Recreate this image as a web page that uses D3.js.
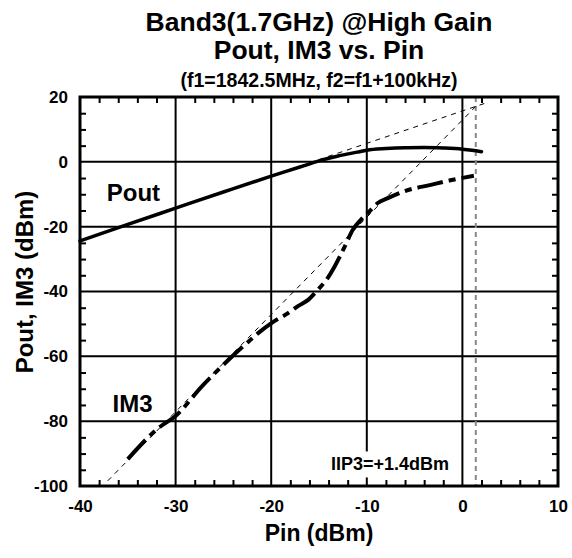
<!DOCTYPE html>
<html><head><meta charset="utf-8">
<script src="https://cdn.jsdelivr.net/npm/d3@7"></script>
<style>
body{margin:0;background:#fff;}
text{font-family:"Liberation Sans",Arial,sans-serif;font-weight:bold;fill:#000;}
</style></head>
<body><svg id="c" width="572" height="558"></svg>
<script>
// ---- data ----
const poutPin = [-40,-35,-30,-25,-20,-17,-15,-13,-11,-10,-8,-6,-4,-2,0,1,2];
const poutVal = [-24.4,-19.3,-14.3,-9.3,-4.4,-1.6,0.3,1.8,3.0,3.6,4.1,4.35,4.4,4.25,3.9,3.55,3.1];
const im3Pin = [-35,-31.7,-30,-27.2,-26,-24.4,-22.7,-21.3,-19.9,-18.2,-17.2,-16.1,-15.1,-14.2,-13.35,-12.3,-11.45,-10.6,-9.9,-8.85,-7.8,-6.1,-3.3,-1.25,1.2];
const im3Val = [-91.7,-81.9,-78.4,-69.1,-65.5,-60.9,-56.3,-52.7,-49.6,-46.6,-44.5,-42.5,-39.4,-36.3,-32.2,-26.1,-20.9,-17.8,-15.8,-12.7,-11.2,-9.1,-7.1,-5.7,-4.3];
const poutFitPin = [-20,2.6];
const poutFitVal = [-4.3,18.3];
const im3FitPin = [-37.1,1.6];
const im3FitVal = [-98.4,17.7];
const iip3 = 1.4;
const xMajor = [-40,-30,-20,-10,0,10];
const xMinor = [-38,-36,-34,-32,-28,-26,-24,-22,-18,-16,-14,-12,-8,-6,-4,-2,2,4,6,8];
const yMajor = [20,0,-20,-40,-60,-80,-100];
const yMinor = [15,10,5,-5,-10,-15,-25,-30,-35,-45,-50,-55,-65,-70,-75,-85,-90,-95];
const titles = ["Band3(1.7GHz) @High Gain","Pout, IM3 vs. Pin","(f1=1842.5MHz, f2=f1+100kHz)"];

const svg = d3.select("#c");
const L=80,R=558,T=97,B=486;
const x = d3.scaleLinear().domain([-40,10]).range([L,R]);
const y = d3.scaleLinear().domain([-100,20]).range([B,T]);
const cx=(L+R)/2;
const FF="Liberation Sans, Arial, sans-serif";

// titles
svg.append("text").attr("x",cx).attr("y",31).attr("text-anchor","middle").style("font-size","26.5px").text(titles[0]);
svg.append("text").attr("x",cx).attr("y",59).attr("text-anchor","middle").style("font-size","26.5px").text(titles[1]);
svg.append("text").attr("x",cx).attr("y",87).attr("text-anchor","middle").style("font-size","19.5px").text(titles[2]);

// grid
const g = svg.append("g");
g.selectAll("line.vx").data(xMajor.slice(1,-1)).join("line")
 .attr("x1",d=>x(d)).attr("x2",d=>x(d)).attr("y1",T).attr("y2",B)
 .attr("stroke","#000").attr("stroke-width",2);
g.selectAll("line.hy").data(yMajor.slice(1,-1)).join("line")
 .attr("class","hy").attr("y1",d=>y(d)).attr("y2",d=>y(d)).attr("x1",L).attr("x2",R)
 .attr("stroke","#000").attr("stroke-width",2);

// minor ticks via axes
const tk=6;
const clean = s=>{s.select(".domain").remove();s.selectAll("line").attr("stroke-width",2);};
svg.append("g").attr("transform",`translate(0,${B})`)
 .call(d3.axisTop(x).tickValues(xMinor).tickSize(tk).tickFormat("")).call(clean);
svg.append("g").attr("transform",`translate(0,${T})`)
 .call(d3.axisBottom(x).tickValues(xMinor).tickSize(tk).tickFormat("")).call(clean);
svg.append("g").attr("transform",`translate(${L},0)`)
 .call(d3.axisRight(y).tickValues(yMinor).tickSize(tk).tickFormat("")).call(clean);
svg.append("g").attr("transform",`translate(${R},0)`)
 .call(d3.axisLeft(y).tickValues(yMinor).tickSize(tk).tickFormat("")).call(clean);

// tick labels
const lbl = s=>{s.select(".domain").remove();s.selectAll("text").style("font-size","17px").style("font-family",FF).style("font-weight","bold").attr("fill","#000");};
svg.append("g").attr("transform",`translate(0,${B})`)
 .call(d3.axisBottom(x).tickValues(xMajor).tickSize(0).tickPadding(14).tickFormat(d=>String(d))).call(lbl);
svg.append("g").attr("transform",`translate(${L},0)`)
 .call(d3.axisLeft(y).tickValues(yMajor).tickSize(0).tickPadding(12).tickFormat(d=>String(d))).call(lbl);

// axis titles
svg.append("text").attr("x",cx).attr("y",541).attr("text-anchor","middle").style("font-size","23px").text("Pin (dBm)");
svg.append("text").attr("transform",`translate(33,282) rotate(-90)`).attr("text-anchor","middle").style("font-size","24px").text("Pout, IM3 (dBm)");

// IIP3 label with white background
const iipG = svg.append("g");
const bgR = iipG.append("rect").attr("fill","#fff");
const iipT = iipG.append("text").attr("x",x(-1.4)).attr("y",y(-95.2)).attr("text-anchor","end").style("font-size","18px").text("IIP3=+1.4dBm");
const bb = iipT.node().getBBox();
bgR.attr("x",bb.x-2).attr("y",bb.y-3).attr("width",bb.width+4).attr("height",bb.height+6);

// IIP3 vertical line
svg.append("line").attr("x1",x(iip3)).attr("x2",x(iip3)).attr("y1",T).attr("y2",B)
 .attr("stroke","#888").attr("stroke-width",2).attr("stroke-dasharray","5,4");

// fit lines
const line = d3.line().x(d=>x(d[0])).y(d=>y(d[1]));
svg.append("path").datum(d3.zip(poutFitPin,poutFitVal)).attr("d",line).attr("fill","none")
 .attr("stroke","#000").attr("stroke-width",1).attr("stroke-dasharray","5,5");
svg.append("path").datum(d3.zip(im3FitPin,im3FitVal)).attr("d",line).attr("fill","none")
 .attr("stroke","#000").attr("stroke-width",1).attr("stroke-dasharray","5,5");

// curves
const cl = d3.line().x(d=>x(d[0])).y(d=>y(d[1])).curve(d3.curveMonotoneX);
svg.append("path").datum(d3.zip(poutPin,poutVal)).attr("d",cl).attr("fill","none")
 .attr("stroke","#000").attr("stroke-width",3.5).attr("stroke-linecap","round");
svg.append("path").datum(d3.zip(im3Pin,im3Val)).attr("d",cl).attr("fill","none")
 .attr("stroke","#000").attr("stroke-width",4).attr("stroke-dasharray","26,6,7,6");

// text labels
svg.append("text").attr("x",x(-37.2)).attr("y",y(-12)).style("font-size","24px").text("Pout");
svg.append("text").attr("x",x(-36.6)).attr("y",y(-77.3)).style("font-size","24px").text("IM3");

// frame
svg.append("rect").attr("x",L).attr("y",T).attr("width",R-L).attr("height",B-T)
 .attr("fill","none").attr("stroke","#000").attr("stroke-width",3);
</script></body></html>
